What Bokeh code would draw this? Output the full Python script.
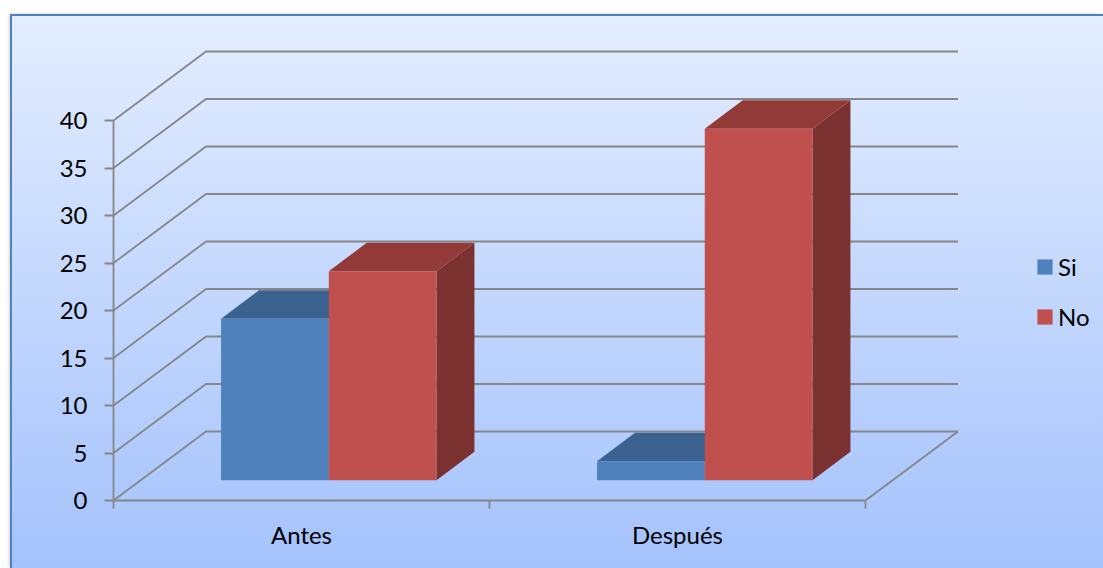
from bokeh.plotting import figure
from bokeh.embed import file_html
from bokeh.resources import INLINE
from bokeh.models import (Range1d, FixedTicker, LinearAxis, Legend, LegendItem,
                          InlineStyleSheet)

categories = ["Antes", "Después"]
si_values = [17, 2]
no_values = [22, 37]
series_names = ["Si", "No"]
y_ticks = [0, 5, 10, 15, 20, 25, 30, 35, 40]

FONT = "Lato"
FONT_SIZE = "24px"
GRID = "#868686"
BLUE = ("#4F81BD", "#3C6390", "#2F4E72")
RED = ("#C0504D", "#923A38", "#7B312F")

PX_X = 376.0          # pixels per category
PX_Y = 9.5            # pixels per value unit
DX = 92.5 / PX_X      # depth of the box, category units
DY = 69.0 / PX_Y      # depth of the box, value units
D0, D1 = 0.295, 0.705 # bars' front and back within the depth
BAR = 0.2865          # width of a bar, category units

W, H = 1103, 568
LEFT, BOTTOM = 113, 68

css = InlineStyleSheet(css="""
:host { position: relative; }
:host::before {
  content: ""; position: absolute; left: 10px; top: 14px;
  width: 1093px; height: 554px; box-sizing: border-box;
  border-left: 2px solid #4F81BD; border-top: 2px solid #4F81BD;
  background: linear-gradient(180deg, #E3EDFF 0%, #A4C2FC 100%);
  box-shadow: -1px 0 3px rgba(0,0,0,.18);
}
""")

p = figure(width=W, height=H, output_backend="svg", toolbar_location=None,
           x_range=Range1d(0, (W - LEFT) / PX_X),
           y_range=Range1d(0, (H - BOTTOM) / PX_Y),
           x_axis_location=None, y_axis_location=None,
           min_border_left=LEFT, min_border_bottom=BOTTOM,
           min_border_top=0, min_border_right=0,
           background_fill_color=None, border_fill_color=None,
           outline_line_color=None, stylesheets=[css])
p.xgrid.visible = False
p.ygrid.visible = False


def proj(x, v, d):
    return x + d * DX, v + d * DY


# walls and floor
gx, gy = [], []
for t in y_ticks:
    a, b, c = proj(0, t, 0), proj(0, t, 1), proj(len(categories), t, 1)
    gx.append([a[0], b[0], c[0]])
    gy.append([a[1], b[1], c[1]])
a, b = proj(len(categories), 0, 0), proj(len(categories), 0, 1)
gx.append([a[0], b[0]])
gy.append([a[1], b[1]])
p.multi_line(gx, gy, line_color=GRID, line_width=1.8)


def bars(vals, side, cols):
    """side: -1 left of the category centre, 0 right of it."""
    fx, fy, tx, ty, sx, sy = [], [], [], [], [], []
    for i, v in enumerate(vals):
        l = i + 0.5 + side * BAR
        r = l + BAR
        c = [proj(l, 0, D0), proj(r, 0, D0), proj(r, v, D0), proj(l, v, D0)]
        fx.append([q[0] for q in c]); fy.append([q[1] for q in c])
        c = [proj(l, v, D0), proj(r, v, D0), proj(r, v, D1), proj(l, v, D1)]
        tx.append([q[0] for q in c]); ty.append([q[1] for q in c])
        c = [proj(r, 0, D0), proj(r, 0, D1), proj(r, v, D1), proj(r, v, D0)]
        sx.append([q[0] for q in c]); sy.append([q[1] for q in c])
    p.patches(sx, sy, fill_color=cols[2], line_color=None)
    p.patches(tx, ty, fill_color=cols[1], line_color=None)
    return p.patches(fx, fy, fill_color=cols[0], line_color=None)


r_si = bars(si_values, -1, BLUE)
r_no = bars(no_values, 0, RED)

# axes
xa = LinearAxis(ticker=FixedTicker(ticks=[i + 0.5 for i in range(len(categories))],
                                   minor_ticks=list(range(len(categories) + 1))),
                major_label_overrides={i + 0.5: c for i, c in enumerate(categories)},
                bounds=(0, len(categories)))
xa.axis_line_color = GRID
xa.axis_line_width = 1.8
xa.major_tick_line_color = None
xa.major_tick_out = 0
xa.major_tick_in = 0
xa.minor_tick_line_color = GRID
xa.minor_tick_line_width = 1.8
xa.minor_tick_out = 8
xa.minor_tick_in = 0
xa.major_label_standoff = 11
xa.major_label_text_font = FONT
xa.major_label_text_font_size = FONT_SIZE
xa.major_label_text_color = "#000000"
p.add_layout(xa, "below")

ya = LinearAxis(ticker=FixedTicker(ticks=y_ticks), bounds=(0, y_ticks[-1]))
ya.axis_line_color = GRID
ya.axis_line_width = 1.8
ya.major_tick_line_color = GRID
ya.major_tick_line_width = 1.8
ya.major_tick_out = 9
ya.major_tick_in = 0
ya.minor_tick_line_color = None
ya.major_label_standoff = 17
ya.major_label_text_font = FONT
ya.major_label_text_font_size = FONT_SIZE
ya.major_label_text_color = "#000000"
p.add_layout(ya, "left")

legend = Legend(items=[LegendItem(label=series_names[0], renderers=[r_si]),
                       LegendItem(label=series_names[1], renderers=[r_no])],
                location=(922, 169), orientation="vertical",
                background_fill_color=None, border_line_color=None,
                padding=0, margin=0, spacing=21,
                glyph_width=19, glyph_height=19, label_standoff=4,
                label_text_font=FONT, label_text_font_size=FONT_SIZE,
                label_text_color="#000000", label_height=15)
p.add_layout(legend)

open("out.html", "w").write(file_html(p, INLINE))
